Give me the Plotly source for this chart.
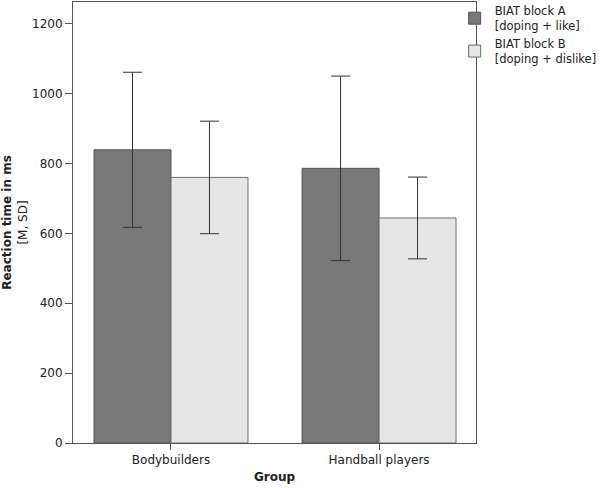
import plotly.graph_objects as go

groups = ["Bodybuilders", "Handball players"]
series_names = ["BIAT block A<br>[doping + like]", "BIAT block B<br>[doping + dislike]"]
mean_a = [839, 786]
sd_a = [222, 264]
mean_b = [760, 644]
sd_b = [161, 117]
y_ticks = [0, 200, 400, 600, 800, 1000, 1200]

FONT = "DejaVu Sans"
fig = go.Figure()
fig.add_trace(go.Bar(
    x=groups, y=mean_a, name=series_names[0],
    marker=dict(color="#787878", line=dict(color="#555555", width=1)),
    error_y=dict(type="data", array=sd_a, visible=True, color="#333333", thickness=1, width=9.5),
))
fig.add_trace(go.Bar(
    x=groups, y=mean_b, name=series_names[1],
    marker=dict(color="#e6e6e6", line=dict(color="#6e6e6e", width=1)),
    error_y=dict(type="data", array=sd_b, visible=True, color="#333333", thickness=1, width=9.5),
))

fig.update_layout(
    width=600, height=488,
    margin=dict(l=73, r=124, t=2, b=45, autoexpand=False),
    paper_bgcolor="white", plot_bgcolor="white",
    barmode="group", bargap=0.26, bargroupgap=0,
    font=dict(family=FONT, size=12, color="#222222"),
    showlegend=True,
    legend=dict(x=0.947, y=1.012, xanchor="left", yanchor="top",
                bgcolor="rgba(0,0,0,0)", font=dict(size=11.5, family=FONT, color="#222222"),
                itemwidth=30, tracegroupgap=0),
    xaxis=dict(range=[-0.471, 1.466], showline=True, linecolor="#555555", linewidth=1,
               mirror=True, ticks="outside", ticklen=6, tickcolor="#555555",
               showgrid=False, zeroline=False,
               title=dict(text="<b>Group</b>", font=dict(size=12, family=FONT), standoff=6)),
    yaxis=dict(range=[0, 1262], tickvals=y_ticks, showline=True, linecolor="#555555", linewidth=1,
               mirror=True, ticks="outside", ticklen=7, tickcolor="#555555",
               showgrid=False, zeroline=False,
               title=dict(text="<b>Reaction time in ms</b><br>[M, SD]", font=dict(size=12, family=FONT), standoff=2)),
)

fig.write_html("out.html", config={"displayModeBar": False},
               post_script="document.body.style.margin='0';")
